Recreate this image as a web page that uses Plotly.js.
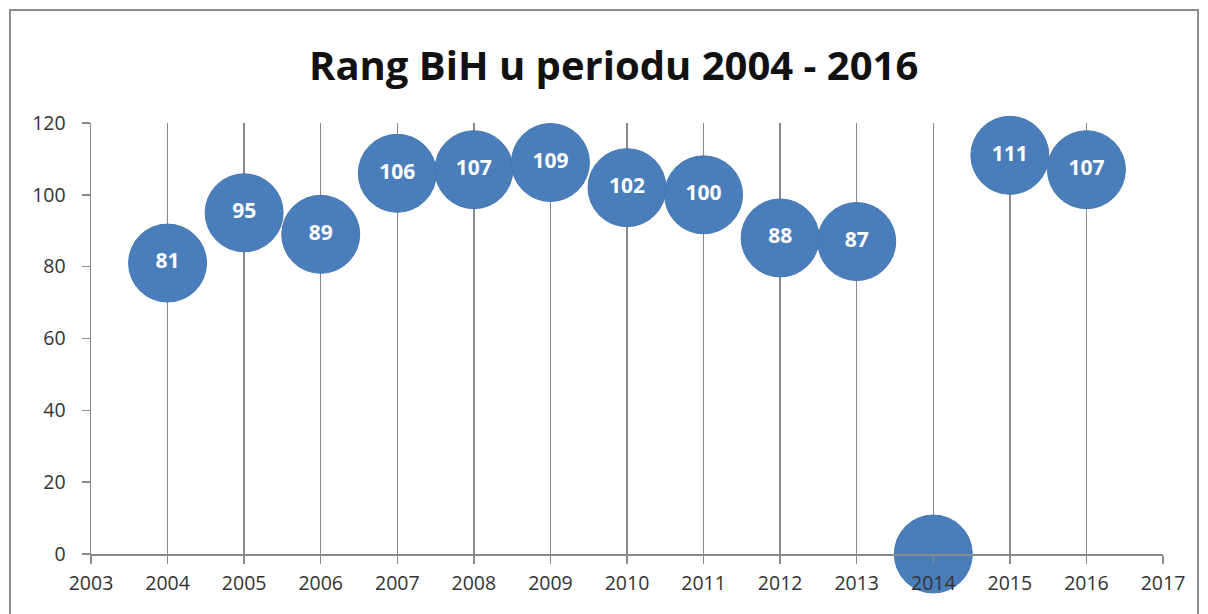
<!DOCTYPE html>
<html>
<head>
<meta charset="utf-8">
<script src="https://cdn.plot.ly/plotly-3.0.1.min.js"></script>
<style>
  html, body { margin: 0; padding: 0; background: #fff; overflow: hidden; }
  #chart { width: 1208px; height: 614px; }
  #frame { position: absolute; left: 9px; top: 9px; width: 1186px; height: 640px; border: 2px solid #8c8c8c; pointer-events: none; }
</style>
</head>
<body>
<div id="chart"></div>
<div id="frame"></div>
<script>
const years = [2004, 2005, 2006, 2007, 2008, 2009, 2010, 2011, 2012, 2013, 2014, 2015, 2016];
const ranks = [81, 95, 89, 106, 107, 109, 102, 100, 88, 87, 0, 111, 107];
const labels = ["81", "95", "89", "106", "107", "109", "102", "100", "88", "87", "", "111", "107"];
const titleText = "Rang BiH u periodu 2004 - 2016";

const trace = {
  type: 'scatter',
  mode: 'markers+text',
  x: years,
  y: ranks,
  text: labels,
  textposition: 'middle center',
  textfont: { family: 'Open Sans, sans-serif', size: 21, color: '#ffffff', weight: 'bold' },
  marker: { size: 78, color: '#4a7ebb', line: { width: 1, color: '#4677b3' }, opacity: 1 },
  cliponaxis: false,
  hoverinfo: 'x+y',
  showlegend: false
};

const layout = {
  width: 1208,
  height: 614,
  margin: { l: 91, r: 45, t: 123, b: 60 },
  paper_bgcolor: '#ffffff',
  plot_bgcolor: '#ffffff',
  title: {
    text: '<b>' + titleText + '</b>',
    font: { family: 'Open Sans, sans-serif', size: 40, color: '#111111' },
    x: 0.508, xanchor: 'center', y: 0.893, yanchor: 'middle'
  },
  xaxis: {
    range: [2003, 2017],
    dtick: 1, tick0: 2003,
    showgrid: true, gridcolor: '#8a8a8a', gridwidth: 1.5,
    showline: true, linecolor: '#8a8a8a', linewidth: 1.5,
    ticks: 'outside', ticklen: 8, tickcolor: '#8a8a8a', tickwidth: 1.5,
    ticklabelstandoff: 3,
    tickfont: { family: 'Open Sans, sans-serif', size: 19.5, color: '#333333' },
    zeroline: false, fixedrange: true
  },
  yaxis: {
    range: [0, 120],
    dtick: 20, tick0: 0,
    showgrid: false,
    showline: true, linecolor: '#8a8a8a', linewidth: 1.5,
    ticks: 'outside', ticklen: 8, tickcolor: '#8a8a8a', tickwidth: 1.5,
    ticklabelstandoff: 12,
    tickfont: { family: 'Open Sans, sans-serif', size: 19.5, color: '#333333' },
    zeroline: false, fixedrange: true
  }
};

Plotly.newPlot('chart', [trace], layout, { displayModeBar: false, staticPlot: true });
</script>
</body>
</html>
